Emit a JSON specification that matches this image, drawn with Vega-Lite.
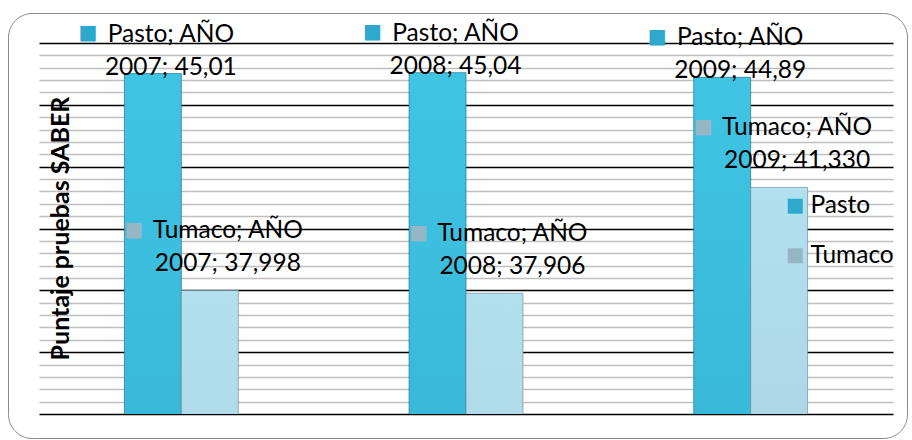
{
  "$schema": "https://vega.github.io/schema/vega-lite/v6.json",
  "width": 854,
  "height": 371,
  "autosize": {"type": "none"},
  "padding": {"left": 39, "top": 43, "right": 19, "bottom": 26},
  "background": "white",
  "config": {"view": {"stroke": null}, "font": "Lato, sans-serif"},
  "data": {
    "values": [
      {"anio": "2007", "serie": "Pasto", "valor": 45.01, "etiqueta": "Pasto; AÑO\n2007; 45,01"},
      {"anio": "2007", "serie": "Tumaco", "valor": 37.998, "etiqueta": "Tumaco; AÑO\n2007; 37,998"},
      {"anio": "2008", "serie": "Pasto", "valor": 45.04, "etiqueta": "Pasto; AÑO\n2008; 45,04"},
      {"anio": "2008", "serie": "Tumaco", "valor": 37.906, "etiqueta": "Tumaco; AÑO\n2008; 37,906"},
      {"anio": "2009", "serie": "Pasto", "valor": 44.89, "etiqueta": "Pasto; AÑO\n2009; 44,89"},
      {"anio": "2009", "serie": "Tumaco", "valor": 41.33, "etiqueta": "Tumaco; AÑO\n2009; 41,330"}
    ]
  },
  "encoding": {
    "x": {"field": "anio", "type": "nominal", "axis": null, "scale": {"paddingInner": 0.6, "paddingOuter": 0.3}},
    "xOffset": {"field": "serie", "type": "nominal", "scale": {"paddingInner": 0, "paddingOuter": 0}},
    "y": {
      "field": "valor",
      "type": "quantitative",
      "scale": {"domain": [34, 46], "nice": false, "zero": false},
      "axis": {
        "values": [34, 34.4, 34.8, 35.2, 35.6, 36, 36.4, 36.8, 37.2, 37.6, 38, 38.4, 38.8, 39.2, 39.6, 40, 40.4, 40.8, 41.2, 41.6, 42, 42.4, 42.8, 43.2, 43.6, 44, 44.4, 44.8, 45.2, 45.6, 46],
        "labels": false,
        "ticks": false,
        "domain": false,
        "grid": true,
        "gridColor": {"condition": {"test": "datum.value % 2 === 0", "value": "#000000"}, "value": "#BFBFBF"},
        "gridWidth": 1.5,
        "gridOpacity": 1,
        "title": "Puntaje pruebas SABER",
        "titleFont": "Lato, sans-serif",
        "titleFontWeight": "bold",
        "titleFontSize": 25,
        "titleColor": "#000000",
        "titleAngle": 270,
        "titleAlign": "center",
        "titleBaseline": "alphabetic",
        "titleX": 29,
        "titleY": 185
      }
    }
  },
  "layer": [
    {
      "transform": [{"filter": "datum.serie === 'Pasto'"}],
      "mark": {
        "type": "bar",
        "clip": true,
        "stroke": "#1f7590",
        "strokeWidth": 1,
        "strokeOpacity": 0.7,
        "fill": {"gradient": "linear", "x1": 0, "y1": 0, "x2": 0, "y2": 1, "stops": [{"offset": 0, "color": "#3FC4E4"}, {"offset": 1, "color": "#2A98BA"}]}
      }
    },
    {
      "transform": [{"filter": "datum.serie === 'Tumaco'"}],
      "mark": {
        "type": "bar",
        "clip": true,
        "stroke": "#6f8f9d",
        "strokeWidth": 1,
        "strokeOpacity": 0.7,
        "fill": {"gradient": "linear", "x1": 0, "y1": 0, "x2": 0, "y2": 1, "stops": [{"offset": 0, "color": "#B3E0EF"}, {"offset": 1, "color": "#8AAFC1"}]}
      }
    },
    {
      "transform": [{"filter": "datum.serie === 'Pasto'"}],
      "mark": {"type": "text", "align": "center", "baseline": "alphabetic", "dx": 18, "dy": -32, "fontSize": 24.5, "lineHeight": 33, "lineBreak": "\n", "color": "#000000"},
      "encoding": {"text": {"field": "etiqueta", "type": "nominal"}}
    },
    {
      "transform": [{"filter": "datum.serie === 'Tumaco'"}],
      "mark": {"type": "text", "align": "center", "baseline": "alphabetic", "dx": 18, "dy": -52.5, "fontSize": 24.5, "lineHeight": 33, "lineBreak": "\n", "color": "#000000"},
      "encoding": {"text": {"field": "etiqueta", "type": "nominal"}}
    },
    {
      "transform": [{"filter": "datum.serie === 'Pasto'"}],
      "mark": {"type": "text", "text": "■", "font": "DejaVu Sans", "align": "center", "baseline": "middle", "dx": -65, "dy": -40.5, "fontSize": 20, "color": "#2EA8CC"}
    },
    {
      "transform": [{"filter": "datum.serie === 'Tumaco'"}],
      "mark": {"type": "text", "text": "■", "font": "DejaVu Sans", "align": "center", "baseline": "middle", "dx": -76, "dy": -60.5, "fontSize": 20, "color": "#95B6C5"}
    },
    {
      "mark": {"type": "point", "filled": true, "opacity": 0},
      "encoding": {
        "color": {
          "field": "serie",
          "type": "nominal",
          "scale": {"range": ["#2EA8CC", "#95B6C5"]},
          "legend": {
            "orient": "none",
            "legendX": 744,
            "legendY": 151,
            "title": null,
            "symbolType": "square",
            "symbolSize": 225,
            "symbolOpacity": 1,
            "symbolStrokeWidth": 0,
            "labelFont": "Lato, sans-serif",
            "labelFontSize": 24.5,
            "labelColor": "#000000",
            "labelOffset": 3,
            "rowPadding": 24.5,
            "padding": 0
          }
        },
        "stroke": {
          "field": "valor",
          "type": "quantitative",
          "legend": {
            "orient": "none",
            "legendX": -31,
            "legendY": -30,
            "direction": "horizontal",
            "title": null,
            "values": [],
            "gradientLength": 899,
            "gradientThickness": 425,
            "gradientOpacity": 0,
            "gradientStrokeWidth": 0,
            "strokeColor": "#8A8A8A",
            "cornerRadius": 24,
            "padding": 0
          }
        }
      }
    }
  ]
}
